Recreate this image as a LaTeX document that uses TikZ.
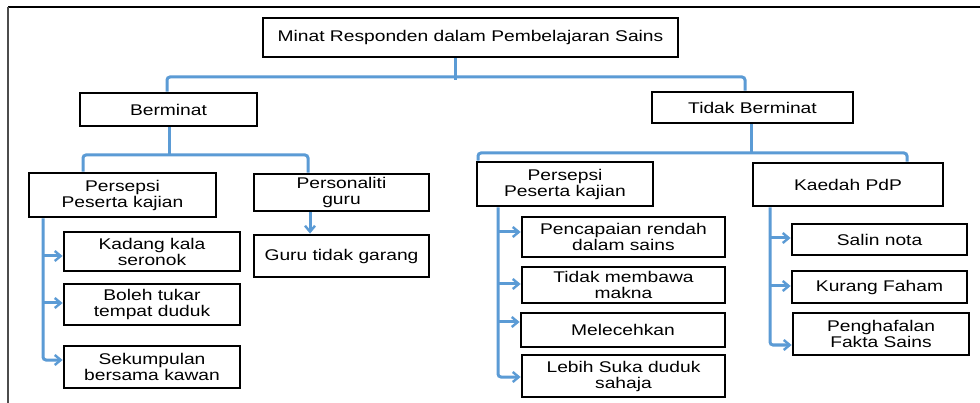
\documentclass[tikz,border=0pt]{standalone}
\usepackage{fontspec}
\setmainfont{Liberation Sans}[FakeStretch=1.24]
\usetikzlibrary{arrows.meta}
\definecolor{lnblue}{RGB}{91,155,213}
\begin{document}
\begin{tikzpicture}[x=1pt,y=-1pt,
  box/.style={draw=black,line width=2.8pt,inner sep=0pt,align=center,
    font=\fontsize{15.5}{16}\selectfont},
  conn/.style={draw=lnblue,line width=3pt,rounded corners=3pt},
  arr/.style={conn,-{Straight Barb[length=6pt,width=10pt,line width=2.4pt]}}]
\useasboundingbox (0,0) rectangle (980,403);
\fill[white] (0,0) rectangle (980,403);
% frame
\draw[black,line width=2pt] (8,7) -- (980,7);
\draw[black!70,line width=1.4pt] (8,7) -- (8,403);
% nodes
\node[box,minimum width=415pt,minimum height=39pt] (top) at (470.5,37.5) {Minat Responden dalam Pembelajaran Sains};
\node[box,minimum width=177pt,minimum height=33pt] (ber) at (168.5,109.5) {Berminat};
\node[box,minimum width=201pt,minimum height=31pt] (tid) at (752.5,107.5) {Tidak Berminat};
\node[box,minimum width=187pt,minimum height=44pt] (per1) at (122.5,195) {Persepsi\\Peserta kajian};
\node[box,minimum width=175pt,minimum height=37pt] (pers) at (341.5,192.5) {Personaliti\\guru};
\node[box,minimum width=175pt,minimum height=42pt] (guru) at (341.5,256) {Guru tidak garang};
\node[box,minimum width=176pt,minimum height=39pt] (kad) at (152,251.5) {Kadang kala\\seronok};
\node[box,minimum width=176pt,minimum height=41pt] (bol) at (152,304.5) {Boleh tukar\\tempat duduk};
\node[box,minimum width=176pt,minimum height=42pt] (sek) at (152,367) {Sekumpulan\\bersama kawan};
\node[box,minimum width=176pt,minimum height=44pt] (per2) at (565,184) {Persepsi\\Peserta kajian};
\node[box,minimum width=190pt,minimum height=43pt] (kae) at (848,184.5) {Kaedah PdP};
\node[box,minimum width=203pt,minimum height=40pt] (pen) at (623.5,237) {Pencapaian rendah\\dalam sains};
\node[box,minimum width=203pt,minimum height=36pt] (tmb) at (623.5,285) {Tidak membawa\\makna};
\node[box,minimum width=204pt,minimum height=34pt] (mel) at (623,330) {Melecehkan};
\node[box,minimum width=203pt,minimum height=42pt] (leb) at (623.5,376) {Lebih Suka duduk\\sahaja};
\node[box,minimum width=175pt,minimum height=31pt] (sal) at (879.5,239.5) {Salin nota};
\node[box,minimum width=175pt,minimum height=32pt] (kur) at (879.5,287) {Kurang Faham};
\node[box,minimum width=176pt,minimum height=42pt] (pen2) at (881,334) {Penghafalan\\Fakta Sains};
% junction coordinates
\coordinate (j0) at (455,77);
\coordinate (j0b) at (455,80);
\coordinate (jl) at (167,77);
\coordinate (jr) at (745,77);
\coordinate (j1) at (169,155);
\coordinate (j1l) at (83,155);
\coordinate (j1r) at (308,155);
\coordinate (j2) at (751,153);
\coordinate (j2l) at (478,153);
\coordinate (j2r) at (907,153);
\coordinate (g1) at (310,0);
% level 1
\draw[conn,rounded corners=0pt] (top.south -| j0) -- (j0b);
\draw[conn] (ber.north -| jl) -- (jl) -- (jr) -- (tid.north -| jr);
% Berminat branch
\draw[conn,rounded corners=0pt] (ber.south -| j1) -- (j1);
\draw[conn] (per1.north -| j1l) -- (j1l) -- (j1r) -- (pers.north -| j1r);
\draw[arr] (pers.south -| g1) -- (guru.north -| g1);
% Tidak Berminat branch
\draw[conn,rounded corners=0pt] (tid.south -| j2) -- (j2);
\draw[conn] (per2.north -| j2l) -- (j2l) -- (j2r) -- (kae.north -| j2r);
% spine 1
\coordinate (a1) at (43,256);
\coordinate (a2) at (43,303);
\coordinate (a3) at (43,360);
\draw[arr] (per1.south -| a3) -- (a3) -- (a3 -| sek.west);
\draw[arr] (a1) -- (a1 -| kad.west);
\draw[arr] (a2) -- (a2 -| bol.west);
% spine 2
\coordinate (b1) at (498,232);
\coordinate (b2) at (498,284);
\coordinate (b3) at (498,322);
\coordinate (b4) at (498,377);
\draw[arr] (per2.south -| b4) -- (b4) -- (b4 -| leb.west);
\draw[arr] (b1) -- (b1 -| pen.west);
\draw[arr] (b2) -- (b2 -| tmb.west);
\draw[arr] (b3) -- (b3 -| mel.west);
% spine 3
\coordinate (c1) at (770,238);
\coordinate (c2) at (770,286);
\coordinate (c3) at (770,345);
\draw[arr] (kae.south -| c3) -- (c3) -- (c3 -| pen2.west);
\draw[arr] (c1) -- (c1 -| sal.west);
\draw[arr] (c2) -- (c2 -| kur.west);
\end{tikzpicture}
\end{document}
